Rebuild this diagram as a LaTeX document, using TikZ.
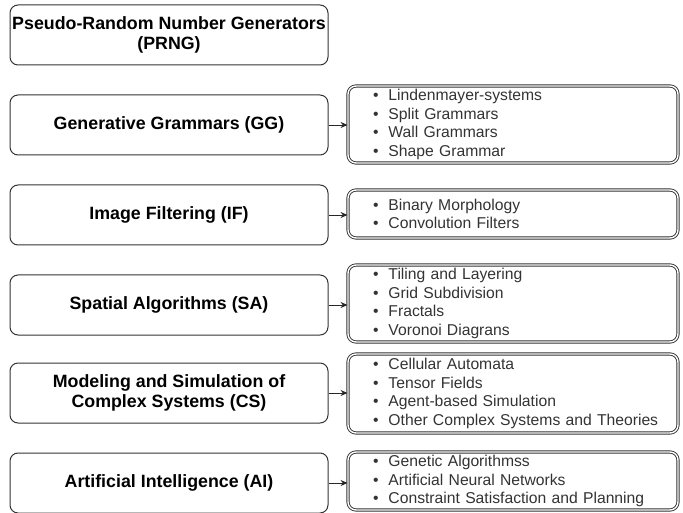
\documentclass[tikz,border=0pt]{standalone}
\usepackage{fontspec}
\setmainfont{Liberation Sans}
\usetikzlibrary{arrows.meta}

\newcommand{\itm}{\hspace*{25pt}\textbullet\hspace{10pt}}

\begin{document}
\begin{tikzpicture}[x=1pt, y=-1pt, >={Stealth[length=7pt, width=6pt]},
  topic/.style={draw=black!80, line width=1pt, rounded corners=8pt,
    minimum width=318pt, minimum height=60pt, align=center, inner sep=0pt,
    font=\fontsize{17.8}{20}\selectfont\bfseries},
  itemlist/.style={draw=black!80, line width=0.9pt, double, double distance=1.4pt,
    rounded corners=8pt, text width=330pt, inner xsep=0pt, inner ysep=0pt,
    align=left, text=black!80, font=\fontsize{15.7}{18.6}\selectfont},
  link/.style={->, black!85, line width=0.9pt}]

\useasboundingbox (0,0) rectangle (683,513);

% --- Left column: method families ---
\node[topic] (prng) at (169, 35) {Pseudo-Random Number Generators\\(PRNG)};
\node[topic] (gg)   at (169, 125) {Generative Grammars (GG)};
\node[topic] (if)   at (169, 215) {Image Filtering (IF)};
\node[topic] (sa)   at (169, 305) {Spatial Algorithms (SA)};
\node[topic] (cs)   at (169, 393) {Modeling and Simulation of\\Complex Systems (CS)};
\node[topic] (ai)   at (169, 483) {Artificial Intelligence (AI)};

% --- Right column: techniques ---
\node[itemlist, minimum height=77pt] (ggl) at (513, 124.5) {%
  \itm Lindenmayer-systems\\ \itm Split Grammars\\
  \itm Wall Grammars\\ \itm Shape Grammar};
\node[itemlist, minimum height=48pt] (ifl) at (513, 214) {%
  \itm Binary Morphology\\ \itm Convolution Filters};
\node[itemlist, minimum height=77pt] (sal) at (513, 303.5) {%
  \itm Tiling and Layering\\ \itm Grid Subdivision\\
  \itm Fractals\\ \itm Voronoi Diagrans};
\node[itemlist, minimum height=79pt] (csl) at (513, 393.5) {%
  \itm Cellular Automata\\ \itm Tensor Fields\\
  \itm Agent-based Simulation\\ \itm Other Complex Systems and Theories};
\node[itemlist, minimum height=58pt] (ail) at (513, 481) {%
  \itm Genetic Algorithmss\\ \itm Artificial Neural Networks\\
  \itm Constraint Satisfaction and Planning};

% --- Connectors ---
\foreach \a/\b in {gg/ggl, if/ifl, sa/sal, cs/csl, ai/ail}
  \draw[link] (\a.east) -- (\a.east -| \b.west);

\end{tikzpicture}
\end{document}
